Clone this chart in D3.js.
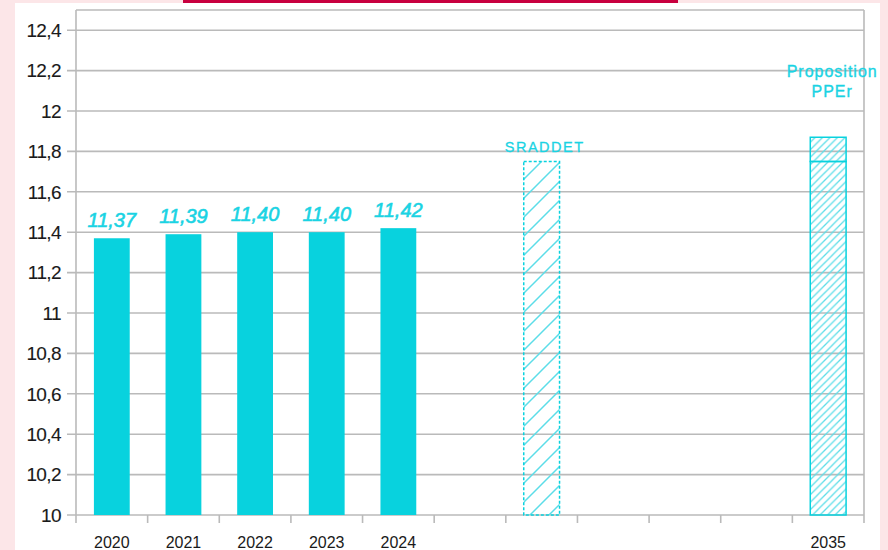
<!DOCTYPE html>
<html>
<head>
<meta charset="utf-8">
<script src="https://cdn.jsdelivr.net/npm/d3@7"></script>
<style>
  html, body { margin: 0; padding: 0; background: #fce6e8; }
  svg { display: block; }
</style>
</head>
<body>
<div id="chart"></div>
<script>
(function () {
    const width = 888, height = 550;

    // ── DATA ───────────────────────────────────────────────────────────────
    // 11 slots on the x axis, only some carry a label
    const slots      = ["2020", "2021", "2022", "2023", "2024", "s5", "sraddet", "s7", "s8", "s9", "2035"];
    const tickLabels = ["2020", "2021", "2022", "2023", "2024", "", "", "", "", "", "2035"];

    const observedYears  = ["2020", "2021", "2022", "2023", "2024"];
    const observedValues = [11.37, 11.39, 11.40, 11.40, 11.42];

    const sraddetValue = 11.75;
    const ppeBase = 11.75, ppeTop = 11.87;

    const yTicks = [10, 10.2, 10.4, 10.6, 10.8, 11, 11.2, 11.4, 11.6, 11.8, 12, 12.2, 12.4];

    // ── COLOURS ────────────────────────────────────────────────────────────
    const CYAN = "#08d2de", LABEL = "#1ad3e3", HATCH = "#5cdde8", GRID = "#bababa";
    const FONT = "Liberation Sans, Arial, sans-serif";

    // ── SVG SETUP ──────────────────────────────────────────────────────────
    const svg = d3.select("#chart").append("svg")
        .attr("width", width).attr("height", height);

    // page frame: pink margins, white panel, crimson strip on top
    svg.append("rect").attr("x", 15).attr("y", 3).attr("width", 865).attr("height", height)
        .attr("fill", "#fff");
    svg.append("rect").attr("x", 183).attr("y", 0).attr("width", 495).attr("height", 3)
        .attr("fill", "#c8003f");

    const m = { left: 76, right: 864, top: 10, bottom: 515 };

    const x = d3.scaleBand().domain(slots).range([m.left, m.right]).paddingInner(0).paddingOuter(0);
    const y = d3.scaleLinear().domain([10, 12.5]).range([m.bottom, m.top]);
    const barW = x.bandwidth() * 0.5;
    const cx = k => x(k) + x.bandwidth() / 2;
    const fmt = v => d3.format(".1~f")(v).replace(".", ",");

    // ── PATTERNS ───────────────────────────────────────────────────────────
    const defs = svg.append("defs");
    function hatch(id, s, w) {
        const p = defs.append("pattern").attr("id", id)
            .attr("patternUnits", "userSpaceOnUse").attr("width", s).attr("height", s);
        p.append("path")
            .attr("d", `M0,${s} L${s},0 M${-s / 2},${s / 2} L${s / 2},${-s / 2} M${s / 2},${s * 1.5} L${s * 1.5},${s / 2}`)
            .attr("stroke", HATCH).attr("stroke-width", w);
    }
    hatch("hatch-wide", 19, 1.5);
    hatch("hatch-tight", 7.5, 1.3);

    // ── GRID & AXES ────────────────────────────────────────────────────────
    const grid = svg.append("g");
    grid.selectAll("line.h")
        .data(yTicks.concat([12.5]))
        .enter().append("line")
        .attr("x1", d => d === 12.5 ? m.left : m.left - 9).attr("x2", m.right)
        .attr("y1", d => y(d)).attr("y2", d => y(d))
        .attr("stroke", GRID).attr("stroke-width", 1.6);

    // plot frame sides
    grid.append("line").attr("x1", m.left).attr("x2", m.left)
        .attr("y1", m.top).attr("y2", m.bottom + 8)
        .attr("stroke", GRID).attr("stroke-width", 1.6);
    grid.append("line").attr("x1", m.right).attr("x2", m.right)
        .attr("y1", m.top).attr("y2", m.bottom + 8)
        .attr("stroke", GRID).attr("stroke-width", 1.6);

    // x tick marks on band edges
    grid.selectAll("line.xt")
        .data(slots.slice(1))
        .enter().append("line")
        .attr("x1", d => x(d)).attr("x2", d => x(d))
        .attr("y1", m.bottom).attr("y2", m.bottom + 8)
        .attr("stroke", GRID).attr("stroke-width", 1.6);

    svg.append("g").selectAll("text")
        .data(yTicks)
        .enter().append("text")
        .attr("x", 61).attr("y", d => y(d)).attr("dy", "0.36em")
        .attr("text-anchor", "end")
        .attr("font-family", FONT)
        .attr("font-size", 19).attr("letter-spacing", "-0.6px")
        .attr("fill", "#1a1a1a").attr("stroke", "#1a1a1a").attr("stroke-width", 0.12)
        .text(fmt);

    svg.append("g").selectAll("text")
        .data(slots)
        .enter().append("text")
        .attr("x", d => cx(d)).attr("y", 548)
        .attr("text-anchor", "middle")
        .attr("font-family", FONT)
        .attr("font-size", 16)
        .attr("fill", "#1a1a1a")
        .text((d, i) => tickLabels[i]);

    // ── OBSERVED BARS ──────────────────────────────────────────────────────
    const obs = observedYears.map((k, i) => ({ k, v: observedValues[i] }));
    const bars = svg.append("g");
    bars.selectAll("rect")
        .data(obs)
        .enter().append("rect")
        .attr("x", d => cx(d.k) - barW / 2).attr("width", barW)
        .attr("y", d => y(d.v)).attr("height", d => y(10) - y(d.v))
        .attr("fill", CYAN);

    bars.selectAll("text")
        .data(obs)
        .enter().append("text")
        .attr("x", d => cx(d.k)).attr("y", d => y(d.v) - 11)
        .attr("text-anchor", "middle")
        .attr("font-family", FONT)
        .attr("font-size", 20).attr("font-style", "italic")
        .attr("fill", LABEL).attr("stroke", LABEL).attr("stroke-width", 0.6)
        .text(d => d3.format(".2f")(d.v).replace(".", ","));

    // ── SRADDET TARGET ─────────────────────────────────────────────────────
    svg.append("rect")
        .attr("x", cx("sraddet") - barW / 2).attr("width", barW)
        .attr("y", y(sraddetValue)).attr("height", y(10) - y(sraddetValue))
        .attr("fill", "url(#hatch-wide)")
        .attr("stroke", CYAN).attr("stroke-width", 1.5).attr("stroke-dasharray", "3,2");

    svg.append("text")
        .attr("x", cx("sraddet") + 3).attr("y", y(sraddetValue) - 10)
        .attr("text-anchor", "middle")
        .attr("font-family", FONT)
        .attr("font-size", 14.5).attr("letter-spacing", "1.5px")
        .attr("fill", LABEL).attr("stroke", LABEL).attr("stroke-width", 0.3)
        .text("SRADDET");

    // ── PPE PROPOSAL (stacked) ─────────────────────────────────────────────
    const ppe = svg.append("g");
    ppe.append("rect")
        .attr("x", cx("2035") - barW / 2).attr("width", barW)
        .attr("y", y(ppeBase)).attr("height", y(10) - y(ppeBase))
        .attr("fill", "url(#hatch-tight)")
        .attr("stroke", CYAN).attr("stroke-width", 1.5);
    ppe.append("rect")
        .attr("x", cx("2035") - barW / 2).attr("width", barW)
        .attr("y", y(ppeTop)).attr("height", y(ppeBase) - y(ppeTop))
        .attr("fill", "url(#hatch-tight)")
        .attr("stroke", CYAN).attr("stroke-width", 1.5);

    const lbl = ppe.append("text")
        .attr("text-anchor", "middle")
        .attr("font-family", FONT)
        .attr("font-size", 16).attr("letter-spacing", "1px")
        .attr("fill", LABEL).attr("stroke", LABEL).attr("stroke-width", 0.35);
    lbl.append("tspan").attr("x", cx("2035") + 4).attr("y", 77).text("Proposition");
    lbl.append("tspan").attr("x", cx("2035") + 4).attr("y", 97).text("PPEr");
})();
</script>
</body>
</html>
